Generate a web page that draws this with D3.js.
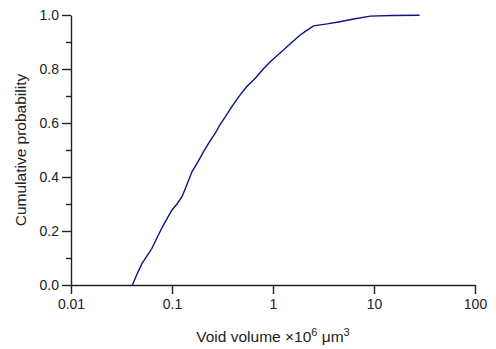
<!DOCTYPE html>
<html>
<head>
<meta charset="utf-8">
<script src="https://cdn.jsdelivr.net/npm/d3@7"></script>
<style>
  body { margin: 0; background: #fff; }
  svg { display: block; font-family: "Liberation Sans", Arial, sans-serif; }
  .axis path, .axis line { stroke: #222; stroke-width: 1.4px; }
  .axis text { fill: #222; font-size: 14px; }
</style>
</head>
<body>
<svg id="chart" width="496" height="349"></svg>
<script>
// cumulative distribution of void volume (x 10^6 um^3)
const volume = [0.0405, 0.045, 0.0505, 0.056, 0.0634, 0.071, 0.0796, 0.089, 0.1, 0.112,
  0.1256, 0.14, 0.158, 0.18, 0.2055, 0.235, 0.268, 0.3, 0.337, 0.39, 0.457, 0.55, 0.668,
  0.8, 0.94, 1.1, 1.27, 1.55, 1.86, 2.2, 2.52, 3.43, 4.6, 6.28, 9.2, 15, 28.3]
const cumProb = [0, 0.04, 0.08, 0.105, 0.136, 0.175, 0.212, 0.245, 0.278, 0.3,
  0.327, 0.37, 0.42, 0.455, 0.494, 0.53, 0.562, 0.595, 0.623, 0.66, 0.697, 0.735, 0.766,
  0.8, 0.827, 0.85, 0.87, 0.9, 0.926, 0.945, 0.96, 0.967, 0.975, 0.985, 0.996, 0.998, 0.999]

const xTicks = [0.01, 0.1, 1, 10, 100]
const yTicks = [0, 0.2, 0.4, 0.6, 0.8, 1.0]
const yMinorTicks = [0.1, 0.3, 0.5, 0.7, 0.9]

const margin = { top: 15, right: 21, bottom: 64, left: 71 }
const width = 496 - margin.left - margin.right
const height = 349 - margin.top - margin.bottom

const svg = d3.select('#chart')
const g = svg.append('g').attr('transform', `translate(${margin.left},${margin.top})`)

const x = d3.scaleLog().domain([0.01, 100]).range([0, width])
const y = d3.scaleLinear().domain([0, 1]).range([height, 0])

// minor y ticks
g.append('g').attr('class', 'axis')
  .call(d3.axisLeft(y).tickValues(yMinorTicks).tickSize(5).tickFormat(''))
  .call(a => a.select('.domain').remove())

g.append('g').attr('class', 'axis')
  .call(d3.axisLeft(y).tickValues(yTicks).tickSize(9).tickSizeOuter(0)
    .tickPadding(3).tickFormat(d3.format('.1f')))

g.append('g').attr('class', 'axis')
  .attr('transform', `translate(0,${height})`)
  .call(d3.axisBottom(x).tickValues(xTicks).tickSize(9).tickSizeOuter(0)
    .tickPadding(5).tickFormat(d => String(d)))

const line = d3.line()
  .x((d, i) => x(volume[i]))
  .y(d => y(d))

g.append('path')
  .datum(cumProb)
  .attr('fill', 'none')
  .attr('stroke', '#10108a')
  .attr('stroke-width', 1.4)
  .attr('d', line)

// axis titles
const xt = svg.append('text')
  .attr('x', margin.left + width / 2)
  .attr('y', 342)
  .attr('text-anchor', 'middle')
  .attr('font-size', 15.5)
  .attr('fill', '#222')
xt.append('tspan').text('Void volume \u00d710')
xt.append('tspan').attr('font-size', 11).attr('dy', -6).text('6')
xt.append('tspan').attr('dy', 6).text(' \u03bcm')
xt.append('tspan').attr('font-size', 11).attr('dy', -6).text('3')

svg.append('text')
  .attr('transform', `translate(26,${margin.top + height / 2}) rotate(-90)`)
  .attr('text-anchor', 'middle')
  .attr('font-size', 15.5)
  .attr('fill', '#222')
  .text('Cumulative probability')
</script>
</body>
</html>
